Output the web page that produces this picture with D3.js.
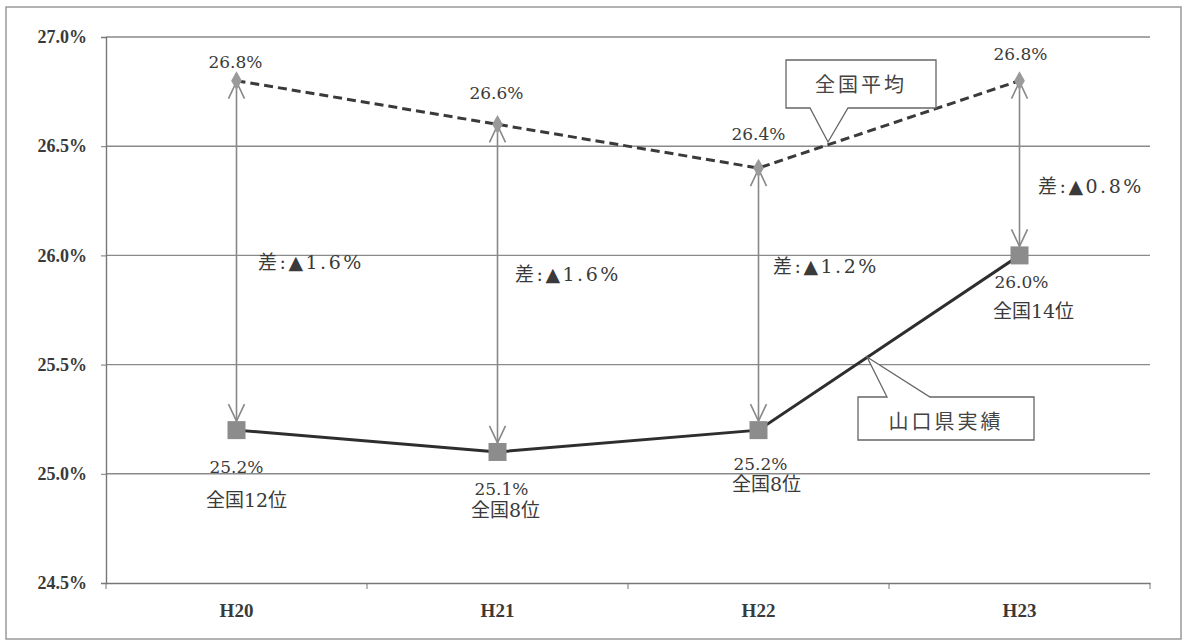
<!DOCTYPE html>
<html><head><meta charset="utf-8">
<script src="https://cdn.jsdelivr.net/npm/d3@7"></script>
<style>
body{margin:0;background:#fff;}
svg{display:block;}
</style></head>
<body>
<svg id="c" width="1184" height="642"></svg>
<script>
const years = ["H20", "H21", "H22", "H23"];
const nationalAvg = [26.8, 26.6, 26.4, 26.8];
const yamaguchi = [25.2, 25.1, 25.2, 26.0];
const ranks = ["全国12位", "全国8位", "全国8位", "全国14位"];
const gaps = ["1.6%", "1.6%", "1.2%", "0.8%"];
const yTicks = [24.5, 25.0, 25.5, 26.0, 26.5, 27.0];

const svg = d3.select("#c");
const serif = "'DejaVu Serif','Noto Sans CJK JP',serif";
const axisFont = "'Liberation Serif','DejaVu Serif',serif";
const jp = "'Noto Sans CJK JP',sans-serif";
const txt = "#3a3a3a";

// outer frame
svg.append("rect").attr("x", 6).attr("y", 7).attr("width", 1175).attr("height", 632)
  .attr("fill", "none").attr("stroke", "#999").attr("stroke-width", 1.5);

const x = d3.scaleBand().domain(years).range([106, 1150]).padding(0);
const y = d3.scaleLinear().domain([24.5, 27.0]).range([583, 37]);
const cx = d => x(d) + x.bandwidth() / 2;

// gridlines
svg.append("g").selectAll("line").data(yTicks.filter(t => t > 24.5)).join("line")
  .attr("x1", 106).attr("x2", 1150).attr("y1", d => y(d)).attr("y2", d => y(d))
  .attr("stroke", "#8a8a8a").attr("stroke-width", 1.4);

// y axis
const yAxis = svg.append("g").attr("transform", "translate(106,0)")
  .call(d3.axisLeft(y).tickValues(yTicks).tickSize(5).tickFormat(d => d.toFixed(1) + "%"));
yAxis.select(".domain").attr("stroke", "#777").attr("stroke-width", 1.4);
yAxis.selectAll(".tick line").attr("stroke", "#777");
yAxis.selectAll("text").attr("font-family", axisFont).attr("font-size", 18).attr("font-weight", "bold")
  .attr("fill", txt).attr("dx", -11);

// x axis
const xAxis = svg.append("g").attr("transform", "translate(0,583)")
  .call(d3.axisBottom(x).tickSize(0).tickPadding(21));
xAxis.select(".domain").attr("stroke", "#777").attr("stroke-width", 1.4);
xAxis.selectAll("text").attr("font-family", axisFont).attr("font-size", 19).attr("font-weight", "bold").attr("fill", txt);
svg.append("g").selectAll("line").data(d3.range(years.length + 1)).join("line")
  .attr("x1", i => 106 + i * x.bandwidth()).attr("x2", i => 106 + i * x.bandwidth())
  .attr("y1", 583).attr("y2", 589).attr("stroke", "#777");

// difference arrows with open heads
const defs = svg.append("defs");
defs.append("marker").attr("id", "ah").attr("viewBox", "-19 -10 21 20")
  .attr("markerWidth", 21).attr("markerHeight", 20).attr("refX", 0).attr("refY", 0)
  .attr("orient", "auto-start-reverse").attr("markerUnits", "userSpaceOnUse")
  .append("path").attr("d", "M-17,-8 L0,0 L-17,8").attr("fill", "none")
  .attr("stroke", "#888").attr("stroke-width", 1.6);
svg.append("g").selectAll("line").data(years).join("line")
  .attr("x1", d => cx(d)).attr("x2", d => cx(d))
  .attr("y1", (d, i) => y(nationalAvg[i]) + 1).attr("y2", (d, i) => y(yamaguchi[i]) - 9)
  .attr("stroke", "#888").attr("stroke-width", 1.6)
  .attr("marker-start", "url(#ah)").attr("marker-end", "url(#ah)");

// national average (dashed)
const line = d3.line().x((v, i) => cx(years[i])).y(v => y(v));
svg.append("path").datum(nationalAvg).attr("d", line).attr("fill", "none")
  .attr("stroke", "#3a3a3a").attr("stroke-width", 3).attr("stroke-dasharray", "9,5");
svg.append("g").selectAll("path").data(nationalAvg).join("path")
  .attr("d", d3.symbol(d3.symbolDiamond, 100))
  .attr("transform", (v, i) => `translate(${cx(years[i])},${y(v)})`)
  .attr("fill", "#9a9a9a");

// Yamaguchi (solid)
svg.append("path").datum(yamaguchi).attr("d", line).attr("fill", "none")
  .attr("stroke", "#2e2e2e").attr("stroke-width", 3);
svg.append("g").selectAll("rect").data(yamaguchi).join("rect")
  .attr("x", (v, i) => cx(years[i]) - 9).attr("y", v => y(v) - 9)
  .attr("width", 18).attr("height", 18).attr("fill", "#8c8c8c");

// value labels
const natLabelDy = [-13, -25, -28, -21];
svg.append("g").selectAll("text").data(nationalAvg).join("text")
  .attr("x", (v, i) => cx(years[i]) - 1 + [0, 0, 1, 2][i]).attr("y", (v, i) => y(v) + natLabelDy[i])
  .attr("text-anchor", "middle").attr("font-family", serif).attr("font-size", 17)
  .attr("fill", txt).text(v => v.toFixed(1) + "%");

const yamLabelDy = [43, 43, 40, 33];
const rankDy = [77, 65, 61, 63];
svg.append("g").selectAll("text").data(yamaguchi).join("text")
  .attr("x", (v, i) => cx(years[i]) + [0, 4, 2, 2][i]).attr("y", (v, i) => y(v) + yamLabelDy[i])
  .attr("text-anchor", "middle").attr("font-family", serif).attr("font-size", 17)
  .attr("fill", txt).text(v => v.toFixed(1) + "%");
svg.append("g").selectAll("text").data(ranks).join("text")
  .attr("x", (r, i) => cx(years[i]) + [10, 8, 8, 14][i]).attr("y", (r, i) => y(yamaguchi[i]) + rankDy[i])
  .attr("text-anchor", "middle").attr("font-family", serif).attr("font-size", 19)
  .attr("fill", txt).text(r => r);

// gap labels
const gapPos = [[258, 269], [515, 281], [773, 273], [1038, 193]];
svg.append("g").selectAll("text").data(gaps).join("text")
  .attr("x", (g, i) => gapPos[i][0]).attr("y", (g, i) => gapPos[i][1])
  .attr("font-family", serif).attr("font-size", 19).attr("letter-spacing", 2.5)
  .attr("fill", txt).text(g => "差:▲" + g);

// callout boxes
function callout(x0, y0, w, h, tail, label, base) {
  const [bx1, bx2, tx, ty] = tail;
  const g = svg.append("g");
  let d;
  if (ty > y0 + h) {
    d = `M${x0},${y0} H${x0 + w} V${y0 + h} H${bx2} L${tx},${ty} L${bx1},${y0 + h} H${x0} Z`;
  } else {
    d = `M${x0},${y0 + h} V${y0} H${bx1} L${tx},${ty} L${bx2},${y0} H${x0 + w} V${y0 + h} Z`;
  }
  g.append("path").attr("d", d).attr("fill", "#fff").attr("stroke", "#666").attr("stroke-width", 1.3);
  g.append("text").attr("x", x0 + w / 2).attr("y", base)
    .attr("text-anchor", "middle").attr("font-family", jp).attr("font-size", 20)
    .attr("letter-spacing", 3).attr("fill", "#444").text(label);
}
callout(786, 60, 150, 48, [810, 848, 828, 142], "全国平均", 92);
callout(858, 397, 176, 43, [887, 930, 867, 357], "山口県実績", 429);
</script>
</body></html>
